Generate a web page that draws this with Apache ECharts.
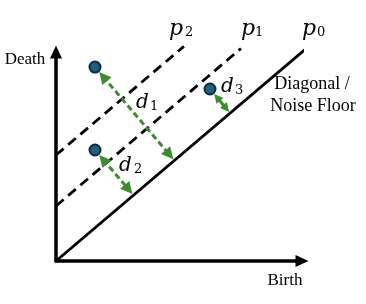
<!DOCTYPE html>
<html>
<head>
<meta charset="utf-8">
<script src="https://cdn.jsdelivr.net/npm/echarts@6/dist/echarts.min.js"></script>
<style>html,body{margin:0;padding:0;background:#fff;}#c{width:366px;height:304px;}</style>
</head>
<body>
<div id="c"></div>
<script>
// persistence points (birth, death)
const points = [[1.585, 9.28], [1.585, 5.31], [6.26, 8.23]];
// feet of the distance arrows on the diagonal
const feet = [[4.81, 4.81], [3.15, 3.15], [7.08, 7.08]];
// threshold lines
const lineP0 = [[0, 0], [10.33, 10.33]];
const lineP1 = [[0, 2.63], [7.52, 10.17]];
const lineP2 = [[0, 5.07], [5.2, 10.27]];
const axisNames = ['Birth', 'Death'];
const diagLabel = ['Diagonal /', 'Noise Floor'];

const green = '#3d8b2f';
const chart = echarts.init(document.getElementById('c'), null, {renderer: 'canvas'});

function mathLabel(v, sub, x, y, sx, size) {
  return [
    {type: 'text', x: x, y: y, style: {text: v, font: 'italic ' + size + 'px "DejaVu Serif"', fill: '#000', align: 'left', verticalAlign: 'middle'}},
    {type: 'text', x: sx, y: y + 4, style: {text: sub, font: '13px "DejaVu Serif"', fill: '#000', align: 'left', verticalAlign: 'middle'}}
  ];
}

const graphics = [].concat(
  mathLabel('d', '1', 136, 102.5, 150, 20),
  mathLabel('d', '2', 119, 166, 134, 20),
  mathLabel('d', '3', 221, 86.5, 235, 20),
  mathLabel('p', '2', 169, 29, 185, 22),
  mathLabel('p', '1', 241, 29, 255, 22),
  mathLabel('p', '0', 302, 29, 317, 22),
  [
    {type: 'text', x: 25, y: 60, style: {text: axisNames[1], font: '17px "Liberation Serif"', fill: '#000', align: 'center', verticalAlign: 'middle'}},
    {type: 'text', x: 285, y: 281, style: {text: axisNames[0], font: '17px "Liberation Serif"', fill: '#000', align: 'center', verticalAlign: 'middle'}},
    {type: 'text', x: 312, y: 84, style: {text: diagLabel[0], font: '18px "Liberation Serif"', fill: '#000', align: 'center', verticalAlign: 'middle'}},
    {type: 'text', x: 313, y: 106, style: {text: diagLabel[1], font: '18px "Liberation Serif"', fill: '#000', align: 'center', verticalAlign: 'middle'}}
  ]
);

const axisCommon = {
  type: 'value', min: 0, max: 10,
  axisLabel: {show: false}, axisTick: {show: false}, splitLine: {show: false},
  axisLine: {show: true, onZero: false, symbol: ['none', 'triangle'], symbolSize: [12, 13], lineStyle: {color: '#000', width: 3.5}}
};

const arrowSizes = [12, 12, 9];
const arrowDash = [[6, 3.5], [6, 3.5], 'solid'];

function buildSeries(arrowData) {
  return [
    {type: 'line', data: lineP0, showSymbol: false, clip: false, lineStyle: {color: '#000', width: 2.8}, z: 3},
    {type: 'line', data: lineP1, showSymbol: false, clip: false, lineStyle: {color: '#000', width: 2.8, type: [10, 6]}, z: 3},
    {type: 'line', data: lineP2, showSymbol: false, clip: false, lineStyle: {color: '#000', width: 2.8, type: [10, 6]}, z: 3}
  ].concat(arrowData.map((a, i) => ({
    type: 'lines', coordinateSystem: 'cartesian2d', z: 4,
    symbol: ['triangle', 'triangle'], symbolSize: arrowSizes[i],
    lineStyle: {color: green, width: 3, type: arrowDash[i], opacity: 1},
    data: [{coords: a}]
  }))).concat([
    {type: 'scatter', data: points, symbol: 'circle', symbolSize: 11, z: 5,
     itemStyle: {color: '#1f5f80', borderColor: '#0e2b3d', borderWidth: 2, opacity: 1}}
  ]);
}

const baseOption = {
  animation: false,
  grid: {left: 56, top: 52, width: 246, height: 209},
  xAxis: Object.assign({}, axisCommon),
  yAxis: Object.assign({}, axisCommon),
  graphic: graphics,
  series: buildSeries(points.map((p, i) => [p, feet[i]]))
};
chart.setOption(baseOption);

// shorten arrow ends so the heads' tips sit at the dot edge and on the diagonal
const arrowData = points.map((p, i) => {
  const P = chart.convertToPixel({gridIndex: 0}, p);
  const F = chart.convertToPixel({gridIndex: 0}, feet[i]);
  const dx = F[0] - P[0], dy = F[1] - P[1];
  const L = Math.hypot(dx, dy);
  const ux = dx / L, uy = dy / L;
  const h = arrowSizes[i] / 2;
  const s = 6.5 + h, e = 1.5 + h;
  const A = chart.convertFromPixel({gridIndex: 0}, [P[0] + ux * s, P[1] + uy * s]);
  const B = chart.convertFromPixel({gridIndex: 0}, [F[0] - ux * e, F[1] - uy * e]);
  return [A, B];
});
chart.setOption({series: buildSeries(arrowData)});
</script>
</body>
</html>
